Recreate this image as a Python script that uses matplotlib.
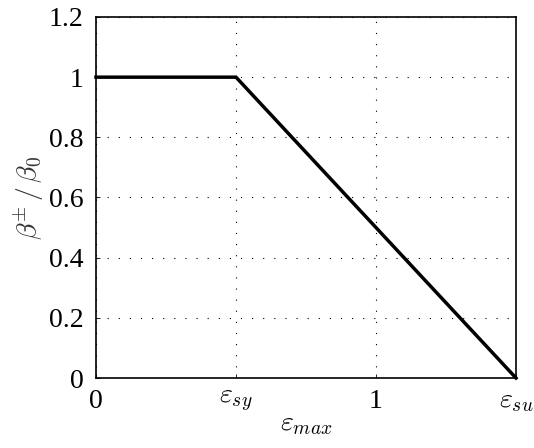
import matplotlib
matplotlib.use("Agg")
import matplotlib.pyplot as plt

plt.rcParams['font.family'] = ['Liberation Serif', 'DejaVu Serif']
plt.rcParams['mathtext.fontset'] = 'cm'

# strain-dependent reduction of beta
eps = [0.0, 0.5, 1.5]
beta_ratio = [1.0, 1.0, 0.0]

xticks = [0, 0.5, 1, 1.5]
xticklabels = ['0', r'$\varepsilon_{sy}$', '1', r'$\varepsilon_{su}$']
yticks = [0, 0.2, 0.4, 0.6, 0.8, 1, 1.2]
yticklabels = ['0', '0.2', '0.4', '0.6', '0.8', '1', '1.2']

fig = plt.figure(figsize=(5.34, 4.48), dpi=100)
ax = fig.add_axes([96 / 534, 1 - 378 / 448, 420 / 534, 361 / 448])

ax.plot(eps, beta_ratio, color='black', linewidth=2.5, solid_joinstyle='miter', clip_on=False, zorder=3)

ax.set_xlim(0, 1.5)
ax.set_ylim(0, 1.2)
ax.set_xticks(xticks)
ax.set_xticklabels(xticklabels)
ax.set_yticks(yticks)
ax.set_yticklabels(yticklabels)
ax.tick_params(direction='in', length=3, width=0.6, labelsize=20)
ax.tick_params(axis='x', pad=8)
ax.tick_params(axis='y', pad=9)

ax.grid(True, linestyle=(0, (1, 9)), color='black', linewidth=0.8)
for s in ax.spines.values():
    s.set_linewidth(1.2)

ax.set_xlabel(r'$\varepsilon_{max}$', fontsize=20, labelpad=-2)
ax.set_ylabel(r'$\beta^{\pm}\,/\,\beta_0$', fontsize=20, labelpad=2, color='#333333')

fig.savefig('out.png', dpi=100)
